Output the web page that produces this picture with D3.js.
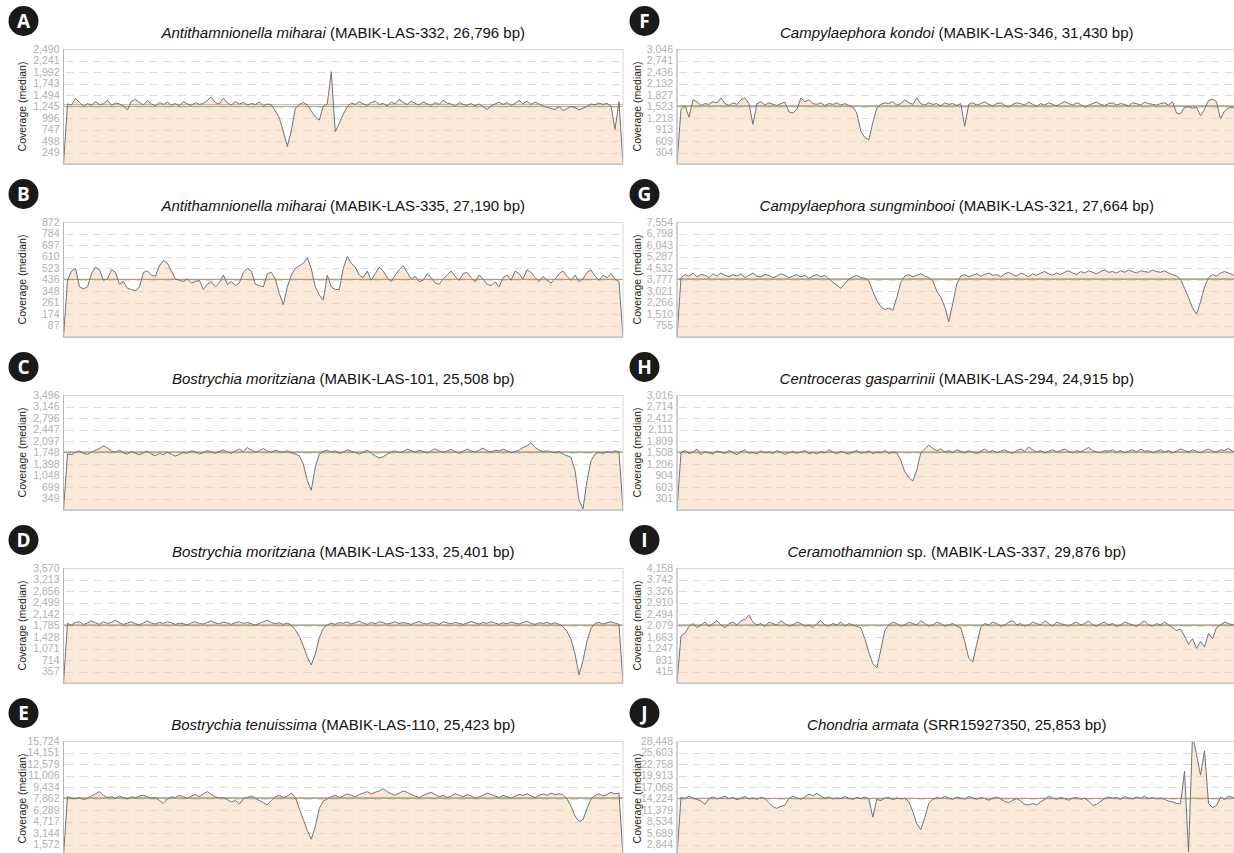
<!DOCTYPE html>
<html><head><meta charset="utf-8">
<script src="https://cdn.jsdelivr.net/npm/d3@7"></script>
<style>body{margin:0;background:#fff;} svg{display:block;}</style>
</head><body>
<svg id="c" width="1234" height="853"></svg>
<script>
// ---------- DATA ----------
const panelLetters = ["A","B","C","D","E","F","G","H","I","J"];
const speciesNames = ["Antithamnionella miharai","Antithamnionella miharai","Bostrychia moritziana","Bostrychia moritziana","Bostrychia tenuissima","Campylaephora kondoi","Campylaephora sungminbooi","Centroceras gasparrinii","Ceramothamnion","Chondria armata"];
const titleRest = [" (MABIK-LAS-332, 26,796 bp)"," (MABIK-LAS-335, 27,190 bp)"," (MABIK-LAS-101, 25,508 bp)"," (MABIK-LAS-133, 25,401 bp)"," (MABIK-LAS-110, 25,423 bp)"," (MABIK-LAS-346, 31,430 bp)"," (MABIK-LAS-321, 27,664 bp)"," (MABIK-LAS-294, 24,915 bp)"," sp. (MABIK-LAS-337, 29,876 bp)"," (SRR15927350, 25,853 bp)"];
const genomeLengths = [26796,27190,25508,25401,25423,31430,27664,24915,29876,25853];
const medians = [1245,436,1748,1785,7862,1523,3777,1508,2079,14224];
const means = [1285,438,1775,1810,7990,1548,3835,1530,2110,14300];

const covA = [0,1300,1280,1420,1330,1250,1310,1270,1350,1290,
 1300,1380,1270,1320,1300,1260,1170,1360,1400,1330,
 1280,1370,1300,1260,1330,1290,1340,1270,1310,1260,
 1350,1300,1270,1330,1290,1310,1380,1450,1330,1300,
 1430,1320,1280,1350,1300,1330,1280,1310,1290,1340,
 1260,1300,1280,1150,1000,700,380,720,1200,1290,
 1330,1280,1150,1020,950,1250,1300,2000,700,880,
 1080,1240,1320,1290,1350,1300,1270,1330,1360,1290,
 1310,1260,1340,1300,1400,1330,1290,1360,1310,1280,
 1340,1300,1270,1330,1290,1380,1320,1300,1250,1330,
 1290,1270,1310,1260,1300,1240,1180,1260,1300,1340,
 1290,1330,1270,1310,1380,1300,1360,1290,1340,1300,
 1260,1230,1200,1180,1240,1160,1200,1250,1220,1170,
 1210,1250,1300,1280,1320,1290,1310,1260,750,1350,
 0];
const covB = [0,430,500,520,380,365,380,480,530,510,
 430,440,510,490,400,420,370,360,350,380,
 490,500,470,460,540,580,560,500,440,430,
 420,440,410,420,430,360,400,420,380,410,
 470,400,420,390,410,490,520,500,400,390,
 380,480,490,440,330,245,380,470,520,540,
 560,600,520,380,320,280,470,380,360,360,
 520,610,560,530,470,450,500,430,480,530,
 500,450,420,470,510,540,490,440,460,420,
 430,480,450,410,400,440,470,500,460,430,
 480,490,450,420,470,440,400,390,420,380,
 450,470,430,500,480,440,510,490,450,420,
 460,430,410,440,480,500,460,430,470,420,
 440,490,510,460,430,470,450,480,440,420,
 0];
const covC = [0,1700,1680,1750,1800,1720,1690,1760,1820,1870,
 1950,1880,1800,1760,1820,1740,1700,1780,1720,1680,
 1740,1790,1700,1650,1720,1680,1760,1700,1640,1690,
 1750,1720,1800,1770,1700,1740,1810,1760,1720,1780,
 1830,1760,1720,1800,1850,1780,1900,1820,1760,1800,
 1870,1790,1750,1820,1780,1760,1800,1740,1700,1650,
 1400,900,600,1300,1700,1780,1820,1760,1800,1720,
 1760,1830,1790,1750,1700,1760,1820,1730,1650,1580,
 1620,1700,1760,1800,1740,1780,1850,1800,1760,1820,
 1780,1730,1800,1860,1790,1750,1800,1840,1770,1720,
 1790,1850,1800,1760,1820,1880,1800,1760,1820,1790,
 1850,1800,1740,1780,1820,1900,1950,2050,1900,1820,
 1780,1800,1760,1740,1780,1700,1650,1600,1200,300,
 30,900,1500,1700,1760,1720,1780,1740,1800,1760,
 0];
const covD = [0,1850,1800,1880,1900,1820,1860,1930,1870,1820,
 1900,1850,1880,1950,1870,1820,1860,1900,1840,1800,
 1870,1920,1860,1830,1880,1850,1900,1870,1820,1860,
 1840,1800,1870,1900,1850,1830,1880,1920,1860,1840,
 1890,1860,1820,1870,1900,1850,1880,1840,1800,1850,
 1900,1950,1880,1840,1870,1820,1860,1800,1650,1450,
 1150,800,560,900,1400,1700,1800,1860,1820,1880,
 1850,1900,1830,1870,1920,1860,1820,1880,1840,1900,
 1870,1830,1860,1900,1840,1880,1850,1820,1870,1910,
 1850,1830,1880,1860,1820,1900,1870,1840,1880,1850,
 1820,1860,1910,1870,1830,1880,1850,1900,1860,1820,
 1870,1840,1890,1860,1830,1880,1920,1850,1820,1870,
 1850,1880,1830,1870,1820,1750,1600,1350,900,250,
 700,1300,1700,1850,1880,1830,1870,1900,1860,1820,
 0];
const covE = [0,8100,7900,7800,8000,7700,7900,8200,8500,8800,
 8300,8000,8100,7900,8200,8000,7800,8100,7950,8200,
 8300,8100,7900,8000,7600,7200,7800,8100,8000,8300,
 8100,7900,8200,8400,8100,8500,8800,8400,8100,7900,
 8000,7700,7400,7600,7100,7800,8000,8200,7900,7600,
 7300,7000,7600,8100,8300,8000,8200,8600,8000,6500,
 5000,3500,2300,4000,6500,7500,7800,8100,8300,8000,
 8200,8500,8300,8100,8400,8600,8800,8500,8700,8900,
 9200,8800,8500,8300,8600,8900,8700,8400,8200,8000,
 8300,8500,8700,8400,8100,8300,8000,8200,8500,8300,
 8100,8400,8200,7900,8100,8300,8600,8400,8200,8000,
 8300,8100,7900,8200,8400,8300,8500,8200,8000,8300,
 8500,8300,8600,8400,8500,8400,7800,6800,5500,4700,
 5000,6500,7800,8300,8500,8200,8400,8700,8500,8600,
 0];
const covF = [0,1450,1550,1240,1700,1650,1550,1600,1580,1650,
 1620,1750,1600,1550,1620,1580,1700,1750,1600,1050,
 1600,1650,1560,1620,1580,1550,1600,1640,1380,1350,
 1450,1750,1650,1700,1600,1580,1620,1550,1600,1580,
 1620,1560,1600,1550,1500,1350,870,700,640,1100,
 1480,1580,1620,1600,1650,1560,1600,1700,1620,1580,
 1750,1600,1560,1620,1580,1600,1540,1620,1580,1600,
 1550,1600,1000,1580,1620,1560,1600,1650,1580,1540,
 1600,1620,1560,1500,1580,1620,1600,1560,1640,1580,
 1520,1600,1560,1620,1580,1540,1600,1650,1600,1560,
 1620,1580,1500,1560,1600,1640,1580,1550,1600,1620,
 1560,1600,1580,1540,1620,1600,1560,1640,1600,1580,
 1560,1600,1620,1560,1650,1350,1330,1500,1520,1480,
 1500,1280,1450,1680,1720,1650,1200,1400,1480,1500,
 1450];
const covG = [0,3900,4100,4000,4200,3950,4100,4050,3900,4150,
 4000,4200,4050,3950,4100,4000,4150,3900,4050,4200,
 4000,3950,4100,4050,3900,4000,4150,4050,3900,4000,
 4100,3950,4050,3850,4000,4100,3950,4050,3800,3600,
 3400,3200,3500,3800,3950,4050,3900,3850,3700,3000,
 2400,2000,1800,1900,1750,2600,3600,4000,4100,3950,
 4050,4150,4000,3900,3700,3000,2600,2000,1000,2200,
 3500,4000,4100,3950,4050,4150,4000,4100,4200,4050,
 4100,3950,4150,4250,4100,4000,4200,4100,3950,4150,
 4050,4200,4300,4150,4050,4200,4100,4250,4350,4200,
 4100,4300,4200,4350,4250,4150,4300,4400,4250,4300,
 4200,4350,4250,4400,4300,4200,4350,4300,4250,4400,
 4300,4250,4350,4200,4100,4000,3800,3200,2600,1900,
 1500,2300,3300,3900,4100,4000,4200,4300,4200,4100,
 4000];
const covH = [0,1500,1560,1480,1520,1600,1450,1530,1500,1470,
 1550,1520,1480,1560,1500,1450,1530,1580,1490,1510,
 1470,1550,1500,1530,1480,1560,1520,1460,1500,1540,
 1490,1520,1560,1480,1510,1470,1530,1500,1580,1520,
 1480,1540,1500,1470,1520,1560,1490,1510,1550,1480,
 1520,1500,1560,1480,1520,1500,1300,1000,850,760,
 1050,1500,1600,1700,1620,1550,1600,1520,1560,1500,
 1580,1540,1500,1560,1520,1480,1540,1600,1520,1560,
 1500,1540,1580,1520,1480,1560,1600,1540,1650,1580,
 1520,1560,1500,1540,1580,1520,1560,1600,1540,1500,
 1560,1520,1580,1640,1560,1520,1500,1560,1540,1580,
 1520,1560,1500,1540,1580,1520,1600,1540,1560,1500,
 1540,1580,1520,1560,1500,1540,1600,1560,1520,1580,
 1540,1500,1560,1600,1540,1520,1580,1560,1620,1540,
 1520];
const covI = [0,1700,1800,2050,2150,2000,2100,2200,2050,2150,
 2250,2100,2000,2150,2200,2100,2250,2300,2450,2200,
 2100,2150,2050,2200,2150,2100,2250,2150,2050,2100,
 2200,2150,2050,2100,2000,2150,2250,2100,2050,2150,
 2100,2200,2050,2150,2100,2050,2000,1600,1100,700,
 550,1200,1900,2100,2200,2150,2050,2100,2200,2150,
 2100,2250,2150,2050,2100,2200,2150,2050,2100,2150,
 2050,2000,1500,900,760,1400,2000,2150,2100,2200,
 2150,2050,2100,2200,2250,2100,2150,2050,2100,2200,
 2150,2100,2250,2150,2050,2200,2150,2100,2050,2150,
 2200,2100,2150,2250,2100,2050,2150,2200,2100,2150,
 2050,2100,2200,2150,2100,2050,2150,2250,2100,2050,
 2150,2100,2200,2100,2000,1900,1950,1700,1400,1600,
 1250,1500,1300,1800,1600,2000,2100,2200,2150,2100,
 2200];
const covJ = [0,14500,14200,14800,14300,14000,13600,12800,14200,14600,
 14100,14400,14800,14200,14500,13900,14300,14700,14100,14400,
 14000,14500,14200,13200,12200,11800,12300,12600,14200,14800,
 14400,14000,14600,15300,14900,15500,14800,14300,14600,14100,
 14400,14200,14700,14300,14000,14500,14200,14600,14100,9600,
 14000,13700,14300,14500,13900,14400,14100,14300,13500,11000,
 8000,6500,9500,13000,14000,14500,14200,14800,14300,14000,
 14600,14300,14100,14700,14400,14000,14500,14200,13800,14300,
 14600,14100,13500,13200,13800,14200,13600,12800,12600,13000,
 12700,13400,14000,14800,14300,14000,14500,14200,13800,14300,
 14500,14000,14300,13600,12500,12800,13500,14200,14600,14300,
 14500,14000,14700,14400,14100,14600,14300,14800,14200,14500,
 14100,14400,14000,13600,13400,13000,13000,21000,1000,30000,
 25000,20000,26000,13000,12000,12500,14500,14000,14800,14500,
 14300];
const coverages = [covA,covB,covC,covD,covE,covF,covG,covH,covI,covJ];

// ---------- DRAW ----------
const svg = d3.select("#c");
const W = 559.5, H = 115;
const colX = [63.5, 677];
const rowY = [49, 222, 395, 568, 741];
const badgeX = [23.5, 644.5];
const ylabX = [22, 637];
const fmt = d3.format(",");
const defs = svg.append("defs");

coverages.forEach((cov, p) => {
  const col = Math.floor(p / 5), row = p % 5;
  const x0 = colX[col], y0 = rowY[row];
  const yMax = 2 * medians[p];
  const x = d3.scaleLinear().domain([0, genomeLengths[p]]).range([x0, x0 + W]);
  const y = d3.scaleLinear().domain([0, yMax]).range([y0 + H, y0]);
  const pos = i => i * genomeLengths[p] / (cov.length - 1);
  const g = svg.append("g");

  defs.append("clipPath").attr("id", "clip" + p)
    .append("rect").attr("x", x0).attr("y", y0).attr("width", W).attr("height", H);

  const ticks = d3.range(1, 11).map(k => Math.floor(yMax * k / 10));

  // grid
  g.append("g").selectAll("line").data(ticks.slice(0, 9)).join("line")
    .attr("x1", x0 + 2).attr("x2", x0 + W)
    .attr("y1", d => Math.round(y(d)) + 0.5).attr("y2", d => Math.round(y(d)) + 0.5)
    .attr("stroke", "#dcdcdc").attr("stroke-width", 1).attr("stroke-dasharray", "8,6");

  // axis labels
  const ax = g.append("g").attr("transform", `translate(${x0},0)`)
    .call(d3.axisLeft(y).tickValues(ticks).tickSize(0).tickPadding(4).tickFormat(fmt));
  ax.select(".domain").remove();
  ax.selectAll("text").attr("fill", "#b0b0b0").style("font-family", "'Liberation Sans', Arial, sans-serif").style("font-size", "10.5px");

  const clipped = g.append("g").attr("clip-path", `url(#clip${p})`);
  // area
  clipped.append("path").datum(cov)
    .attr("d", d3.area().x((d, i) => x(pos(i))).y0(y(0)).y1(d => y(d)))
    .attr("fill", "rgb(245,205,170)").attr("fill-opacity", 0.45);
  // median (green) & mean (red) lines
  clipped.append("line").attr("x1", x0).attr("x2", x0 + W)
    .attr("y1", y(medians[p])).attr("y2", y(medians[p]))
    .attr("stroke", "#84c484").attr("stroke-width", 1);
  clipped.append("line").attr("x1", x0).attr("x2", x0 + W)
    .attr("y1", y(means[p])).attr("y2", y(means[p]))
    .attr("stroke", "#e07a70").attr("stroke-opacity", 0.7).attr("stroke-width", 1);
  // coverage line
  clipped.append("path").datum(cov)
    .attr("d", d3.line().x((d, i) => x(pos(i))).y(d => y(d)))
    .attr("fill", "none").attr("stroke", "#737373").attr("stroke-width", 1);

  // frame
  g.append("rect").attr("x", x0).attr("y", y0 + 0.5).attr("width", W).attr("height", H)
    .attr("fill", "none").attr("stroke", "#d6d6d6");
  g.append("line").attr("x1", x0).attr("x2", x0).attr("y1", y0).attr("y2", y0 + H)
    .attr("stroke", "#b5b5b5");
  g.append("line").attr("x1", x0).attr("x2", x0 + W).attr("y1", y0 + H).attr("y2", y0 + H)
    .attr("stroke", "#b5b5b5");

  // y label
  g.append("text").attr("transform", `translate(${ylabX[col]},${y0 + H / 2}) rotate(-90)`)
    .attr("text-anchor", "middle").attr("dy", "0.35em")
    .style("font-family", "'Liberation Sans', Arial, sans-serif").style("font-size", "10.5px")
    .attr("fill", "#222").text("Coverage (median)");

  // title
  const t = g.append("text").attr("x", x0 + W / 2).attr("y", y0 - 11)
    .attr("text-anchor", "middle")
    .style("font-family", "'Liberation Sans', Arial, sans-serif").style("font-size", "15px")
    .attr("fill", "#111");
  t.append("tspan").style("font-style", "italic").text(speciesNames[p]);
  t.append("tspan").text(titleRest[p]);

  // badge
  const by = 21 + 173 * row;
  g.append("circle").attr("cx", badgeX[col]).attr("cy", by).attr("r", 15).attr("fill", "#1a1a1a");
  g.append("text").attr("x", badgeX[col]).attr("y", by).attr("dy", "0.36em")
    .attr("text-anchor", "middle").attr("fill", "#fff")
    .style("font-family", "'Open Sans', 'DejaVu Sans', sans-serif").style("font-weight", "700").style("font-size", "19px")
    .text(panelLetters[p]);
});
</script>
</body></html>
